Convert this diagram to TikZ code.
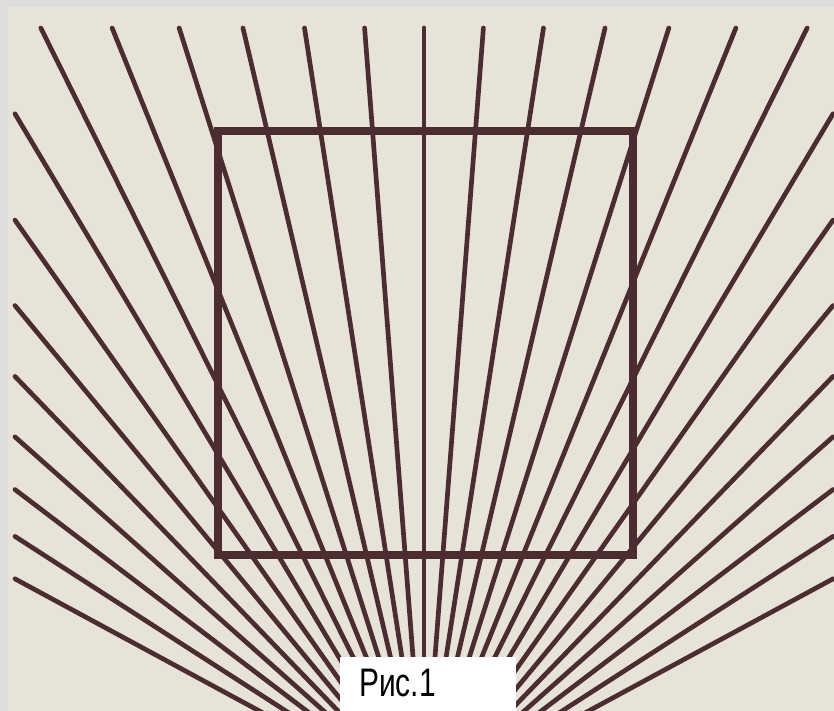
\documentclass[tikz,border=0pt]{standalone}
\usepackage{fontspec}
\setmainfont{Liberation Sans}
\usepackage{graphicx}
\definecolor{paperbg}{RGB}{231,227,217}
\definecolor{inkline}{RGB}{74,44,49}
\definecolor{edgegray}{RGB}{221,221,221}
\begin{document}
\begin{tikzpicture}[x=0.03cm, y=0.03cm,
    ray/.style={inkline, line width=4pt, line cap=round},
    sq/.style={inkline, line width=6pt},
    declare function={
        vx = 424; vy = -89; dt = 4.40;
        ytop = 683; xlft = 15; xrgt = 833;
    }]
    \useasboundingbox (0,0) rectangle (834,711);

    % 底色与灰边
    \fill[edgegray] (0,0) rectangle (834,711);
    \fill[paperbg] (8,0) rectangle (834,704);

    % 汇聚点（在画面下方）
    \coordinate (v) at (vx,vy);

    % 射线：左 8 条，上 13 条，右 8 条
    \begin{scope}
        \clip (8,0) rectangle (834,704);
        \foreach \i in {-14,...,14} {
            \pgfmathsetmacro{\t}{\i*dt}
            \ifnum\i<-6
                \coordinate (e) at (xlft, {vy+(vx-xlft)/tan(abs(\t))});
            \else\ifnum\i>6
                \coordinate (e) at (xrgt, {vy+(xrgt-vx)/tan(\t)});
            \else
                \coordinate (e) at ({vx+(ytop-vy)*tan(\t)}, ytop);
            \fi\fi
            \draw[ray] (v) -- (e);
        }
    \end{scope}

    % 正方形
    \draw[sq] (218,156) rectangle (633,580);

    % 图注
    \fill[white] (340,0) rectangle (516,54);
    \node[anchor=base west, inner sep=0] (cap) at (359,14)
        {\scalebox{0.75}[1]{\fontsize{34}{40}\selectfont Рис.1}};
\end{tikzpicture}
\end{document}
